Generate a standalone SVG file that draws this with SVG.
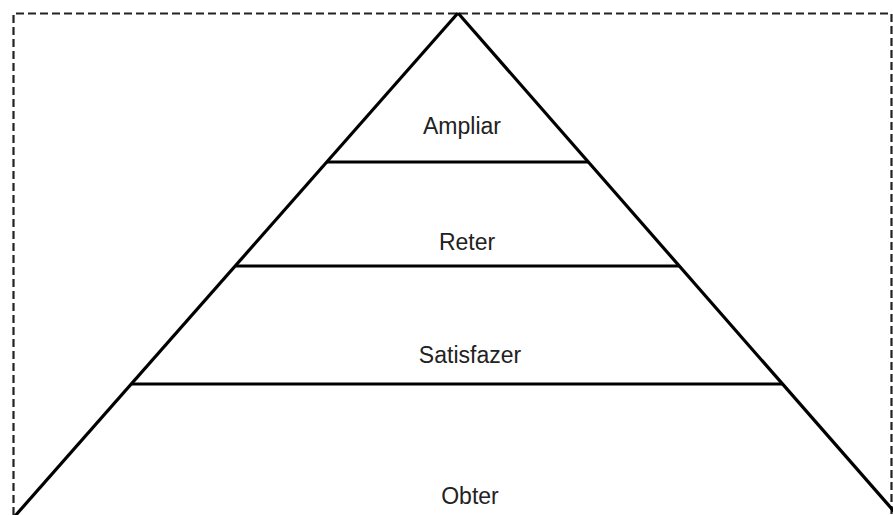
<svg xmlns="http://www.w3.org/2000/svg" width="893" height="515" viewBox="0 0 893 515">
<style>
.lbl{font-family:"Liberation Sans",Arial,sans-serif;font-size:23px;fill:#222;text-anchor:middle}
.ln{stroke:#000;stroke-width:3.2;fill:none}
</style>
<rect x="0" y="0" width="893" height="515" fill="#fff"/>
<path d="M13.5,515 V13.5 H891.5 V515" fill="none" stroke="#222" stroke-width="2.2" stroke-dasharray="8,4"/>
<g id="connectors">
<line class="ln" x1="458" y1="13" x2="15" y2="516"/>
<line class="ln" x1="458" y1="13" x2="898" y2="516"/>
</g>
<g id="ampliar">
<line class="ln" x1="327" y1="162" x2="588" y2="162"/>
<text class="lbl" x="462" y="134">Ampliar</text>
</g>
<g id="reter">
<line class="ln" x1="236" y1="266" x2="679" y2="266"/>
<text class="lbl" x="467" y="250">Reter</text>
</g>
<g id="satisfazer">
<line class="ln" x1="132" y1="384" x2="783" y2="384"/>
<text class="lbl" x="470" y="363">Satisfazer</text>
</g>
<g id="obter">
<text class="lbl" x="470" y="504">Obter</text>
</g>
</svg>
